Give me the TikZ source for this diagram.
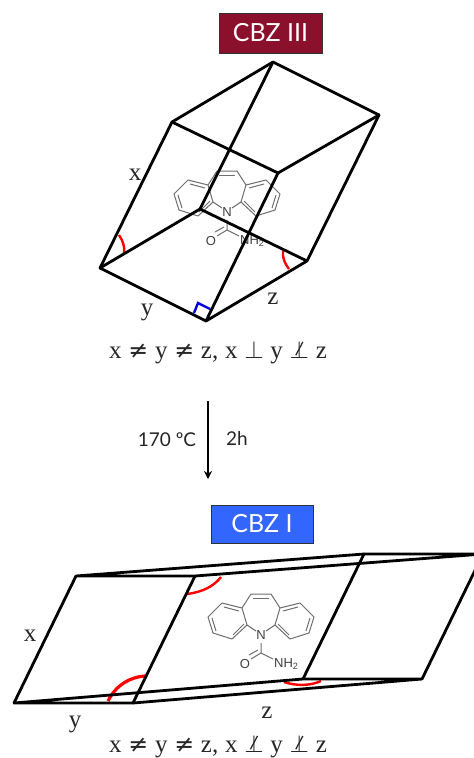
\documentclass[tikz,border=0pt]{standalone}
\usepackage{amsmath,amssymb}
\usepackage{graphicx}
\usepackage{xcolor}
\usepackage{fontspec}
\usepackage{tikz}
\usetikzlibrary{arrows.meta}
\newfontfamily\boxfont{Lato}
\newfontfamily\molfont{Liberation Sans}
\newfontfamily\labelfont{Liberation Serif}
\newfontfamily\relfont{DejaVu Sans}[Scale=0.95]
\definecolor{cbzred}{HTML}{8A102B}
\definecolor{cbzblue}{HTML}{3366FF}
\definecolor{molgray}{HTML}{6E6E6E}
\newcommand{\neqsym}{{\relfont ≠}}
\newcommand{\nperpsym}{\ooalign{$\perp$\cr\hidewidth\raisebox{0.1em}{\rotatebox{62}{\rule{0.6em}{0.05em}}}\hidewidth\cr}}
\newcommand{\wideskip}{\spaceskip=0.27em\relax}
\tikzset{
  cellline/.style={draw=black, line width=2.8pt, line join=round, line cap=round},
  redangle/.style={draw=red, line width=2.4pt},
  blueangle/.style={draw=blue!85!black, line width=2.4pt},
  phasebox/.style={rectangle, draw=black!80, line width=1pt, text=white,
                   font=\boxfont\fontsize{25}{28}\selectfont, inner sep=0pt},
  axislabel/.style={anchor=base, inner sep=0pt, text=black!85, font=\labelfont\fontsize{25}{28}\selectfont},
  eqlabel/.style={anchor=base, inner sep=0pt, text=black!85, font=\labelfont\fontsize{25}{28}\selectfont},
  condlabel/.style={inner sep=0pt, text=black!85, font=\boxfont\fontsize{19}{22}\selectfont},
  atom/.style={inner sep=0pt, text=black!75, font=\molfont\fontsize{13}{15}\selectfont},
  bond/.style={draw=molgray, line width=1pt, line join=round},
  cbzmol/.pic={
    % seven-membered ring and the two benzene rings
    \draw[bond] (-5,-4) -- (-14,-10) -- (-19,-27) -- (-10,-41) -- (10,-41)
                -- (19,-27) -- (14,-10) -- (5,-4);
    \draw[bond] (-19,-27) -- (-39,-32) -- (-53,-18) -- (-48,-2) -- (-29,4) -- (-14,-10);
    \draw[bond] (19,-27) -- (39,-32) -- (53,-18) -- (48,-2) -- (29,4) -- (14,-10);
    \draw[bond] (-8,-37) -- (8,-37);
    \draw[bond] (-22,-24) -- (-37,-28) (-49,-17) -- (-45,-4) (-28,0) -- (-17,-11);
    \draw[bond] (22,-24) -- (37,-28) (49,-17) -- (45,-4) (28,0) -- (17,-11);
    % carboxamide group
    \draw[bond] (0,8) -- (0,18) -- (-10,24);
    \draw[bond] (-3,15) -- (-12,20);
    \draw[bond] (0,18) -- (12,24);
    \node[atom] (-atomN) at (0,0) {N};
    \node[atom] (-atomO) at (-16,29) {O};
    \node[atom, anchor=west] (-atomNH) at (13,29) {NH\textsubscript{2}};
  },
}

\begin{document}
\begin{tikzpicture}[x=1pt, y=-1pt]
  \clip (0,0) rectangle (474,758);
  \fill[white] (0,0) rectangle (474,758);

  % Phase boxes
  \node[phasebox, fill=cbzred, minimum width=103pt, minimum height=40pt] (cbzthree) at (270.5,33) {CBZ III};
  \node[phasebox, fill=cbzblue, minimum width=102pt, minimum height=38pt] (cbzone) at (262,524) {CBZ I};

  % Vertices, upper cell
  \coordinate (ua) at (100,268);
  \coordinate (ub) at (206,321);
  \coordinate (uc) at (307,261);
  \coordinate (ud) at (200,209);
  \coordinate (ue) at (172,122);
  \coordinate (uf) at (278,173);
  \coordinate (ug) at (379,115);
  \coordinate (uh) at (273,62);

  % Vertices, lower cell
  \coordinate (la) at (14,703);
  \coordinate (lb) at (133,703);
  \coordinate (lc) at (422,679);
  \coordinate (ld) at (303,679);
  \coordinate (le) at (76,576);
  \coordinate (lf) at (195,576);
  \coordinate (lg) at (483,554);
  \coordinate (lh) at (364,554);

  % Molecules
  \pic (molthree) at (227,212) {cbzmol};
  \pic (molone) at (261,635) {cbzmol};

  % Angle marks
  \draw[redangle] (119,235) .. controls (123,241) and (125,247) .. (124,253);
  \draw[redangle] (283,251) .. controls (282,257) and (285,264) .. (289,269);
  \draw[redangle] (187,594) .. controls (203,592) and (214,586) .. (221,577);
  \draw[redangle, line width=3.2pt] (108,701) .. controls (116,685) and (130,677) .. (145,676);
  \draw[redangle] (284,682) .. controls (296,686) and (310,686) .. (321,681);
  \draw[blueangle] (194,313) -- (198,303) -- (210,309);

  % Upper cell
  \draw[cellline] (ua) -- (ub) -- (uc) -- (ud) -- cycle;
  \draw[cellline] (ue) -- (uf) -- (ug) -- (uh) -- cycle;
  \draw[cellline] (ua) -- (ue) (ub) -- (uf) (uc) -- (ug) (ud) -- (uh);

  % Lower cell
  \draw[cellline] (la) -- (lb) -- (lc) -- (ld) -- cycle;
  \draw[cellline] (le) -- (lf) -- (lg) -- (lh) -- cycle;
  \draw[cellline] (la) -- (le) (lb) -- (lf) (lc) -- (lg) (ld) -- (lh);

  % Axis labels
  \node[axislabel] (xthree) at (135,180) {x};
  \node[axislabel] (ythree) at (147,315) {y};
  \node[axislabel] (zthree) at (273,304) {z};
  \node[axislabel] (xone) at (30,641) {x};
  \node[axislabel] (yone) at (75,727) {y};
  \node[axislabel] (zone) at (267,718) {z};

  % Relations
  \node[eqlabel] (eqthree) at (218,358) {\wideskip x \neqsym{} y \neqsym{} z, x $\perp$ y \nperpsym{} z};
  \node[eqlabel] (eqone) at (218,752) {\wideskip x \neqsym{} y \neqsym{} z, x \nperpsym{} y \nperpsym{} z};

  % Transition
  \coordinate (arrowtop) at (208,401);
  \coordinate (arrowend) at (208,479);
  \draw[-{Stealth[length=8pt, width=8pt]}, line width=1.6pt] (arrowtop) -- (arrowend);
  \node[condlabel] (temp) at (167,440) {170 ºC};
  \node[condlabel] (time) at (237,438) {2h};
\end{tikzpicture}
\end{document}
